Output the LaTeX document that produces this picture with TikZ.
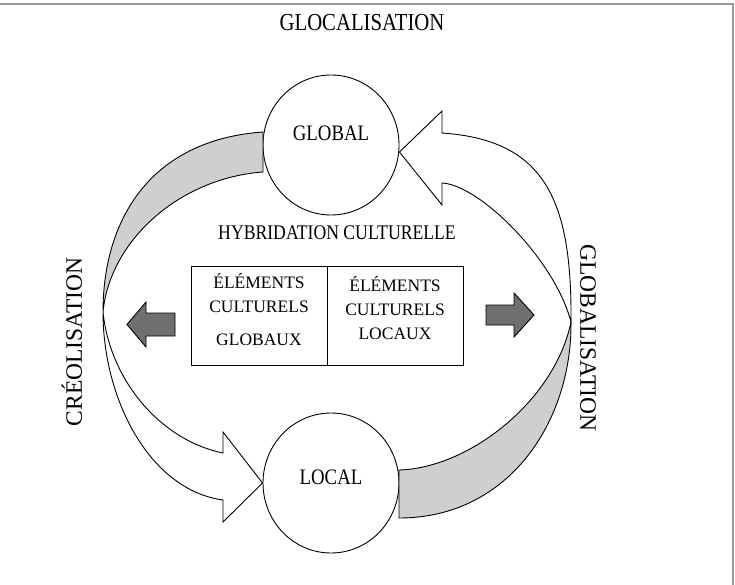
\documentclass[tikz,border=0pt]{standalone}
\usepackage{fontspec}
\setmainfont{Liberation Serif}
\newfontfamily\narrowserif[FakeStretch=0.85]{Liberation Serif}
\usetikzlibrary{calc,positioning,shapes.geometric}

\begin{document}
\begin{tikzpicture}[
    x=1pt, y=-1pt,
    every node/.style={inner sep=0pt},
    pole/.style={draw, line width=0.9pt, fill=white, ellipse,
      minimum width=136pt, minimum height=140pt},
    poletext/.style={font=\narrowserif\fontsize{22.1}{22.1}\selectfont},
    sidetext/.style={font=\fontsize{23.5}{23.5}\selectfont},
    celltext/.style={font=\fontsize{17.5}{17.5}\selectfont},
    cell/.style={draw, line width=0.9pt, minimum width=136pt, minimum height=99pt},
    band/.style={draw, line width=0.9pt, fill=bandgray},
    hollow/.style={draw, line width=0.9pt, fill=white},
    block/.style={draw, line width=0.9pt, fill=blockgray},
  ]
    \definecolor{bandgray}{HTML}{CFCFCF}
    \definecolor{blockgray}{HTML}{6F6F6F}
    \definecolor{framegray}{HTML}{9A9A9A}

    \useasboundingbox (0,0) rectangle (735,585);
    \draw[framegray, line width=1.2pt] (0,4) -- (733,4) -- (733,585);

    % ---- poles ----
    \node[pole] (global) at (331,145) {};
    \node[pole] (local) at (331,483) {};
    \node[poletext] (globaltxt) at ([yshift=12pt]global.center) {GLOBAL};
    \node[poletext] (localtxt) at ([yshift=6pt]local.center) {LOCAL};

    \coordinate (creole) at (103,312);
    \coordinate (globe) at (571,322);

    % ---- left side: band up to GLOBAL, hollow arrow down to LOCAL ----
    \draw[band] (263,132) .. controls (150,140) and (103,220) .. (creole)
      .. controls (110,240) and (180,178) .. (263,172) -- cycle;
    \draw[hollow] (creole) .. controls (103,400) and (150,490) .. (223,500)
      -- (223,522) -- (local.west) -- (223,432) -- (223,453)
      .. controls (160,440) and (110,380) .. (creole) -- cycle;

    % ---- right side: band from LOCAL, hollow arrow up to GLOBAL ----
    \draw[band] (399,518) .. controls (510,518) and (572,420) .. (globe)
      .. controls (555,400) and (470,468) .. (399,470) -- cycle;
    \draw[hollow] (globe) .. controls (572,200) and (545,140) .. (442,133)
      -- (442,111) -- ([yshift=-7pt]global.east) -- (442,205) -- (442,183)
      .. controls (480,185) and (555,260) .. (globe) -- cycle;

    % ---- centre ----
    \node[font=\narrowserif\fontsize{20.8}{20.8}\selectfont] (hybrid) at (337,233)
      {HYBRIDATION CULTURELLE};
    \node[cell] (globcell) at (259,315.5) {};
    \node[cell] (loccell) at (395,315.5) {};
    \foreach \txt/\yy [count=\i] in {ÉLÉMENTS/288, CULTURELS/312.5, GLOBAUX/345}
      \node[celltext, anchor=base] (globline\i) at (globcell.center |- 0,\yy) {\txt};
    \foreach \txt/\yy [count=\i] in {ÉLÉMENTS/291, CULTURELS/315, LOCAUX/339}
      \node[celltext, anchor=base] (locline\i) at (loccell.center |- 0,\yy) {\txt};

    \draw[block] (175,313) -- (146,313) -- (146,302) -- (127,324.5)
      -- (146,347) -- (146,336) -- (175,336) -- cycle;
    \draw[block] (486,305) -- (514,305) -- (514,293) -- (534,315)
      -- (514,337) -- (514,325) -- (486,325) -- cycle;

    % ---- labels ----
    \node[font=\narrowserif\fontsize{24.4}{24.4}\selectfont] (glocal) at (362,23) {GLOCALISATION};
    \node[sidetext, rotate=90] (creol) at (72,342) {CRÉOLISATION};
    \node[sidetext, rotate=-90] (globz) at (588,338) {GLOBALISATION};
\end{tikzpicture}
\end{document}
